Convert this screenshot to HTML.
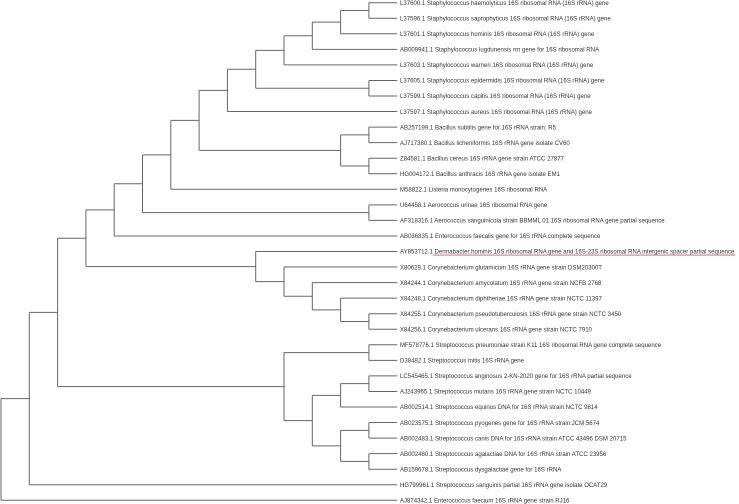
<!DOCTYPE html>
<html><head><meta charset="utf-8"><style>
html,body{margin:0;padding:0;background:#fff;}
svg{display:block;font-family:"Liberation Sans",Arial,sans-serif;}
text{font-size:6.05px;fill:#333;}
</style></head><body>
<svg id="tree" width="739" height="504" viewBox="0 0 739 504" xmlns="http://www.w3.org/2000/svg"></svg>
<script>
const labels = [
"L37600.1 Staphylococcus haemolyticus 16S ribosomal RNA (16S rRNA) gene",
"L37596.1 Staphylococcus saprophyticus 16S ribosomal RNA (16S rRNA) gene",
"L37601.1 Staphylococcus hominis 16S ribosomal RNA (16S rRNA) gene",
"AB009941.1 Staphylococcus lugdunensis rrn gene for 16S ribosomal RNA",
"L37603.1 Staphylococcus warneri 16S ribosomal RNA (16S rRNA) gene",
"L37605.1 Staphylococcus epidermidis 16S ribosomal RNA (16S rRNA) gene",
"L37599.1 Staphylococcus capitis 16S ribosomal RNA (16S rRNA) gene",
"L37597.1 Staphylococcus aureus 16S ribosomal RNA (16S rRNA) gene",
"AB257199.1 Bacillus subtilis gene for 16S rRNA strain: R5",
"AJ717380.1 Bacillus licheniformis 16S rRNA gene isolate CV60",
"Z84581.1 Bacillus cereus 16S rRNA gene strain ATCC 27877",
"HG004172.1 Bacillus anthracis 16S rRNA gene isolate EM1",
"M58822.1 Listeria monocytogenes 16S ribosomal RNA",
"U64458.1 Aerococcus urinae 16S ribosomal RNA gene",
"AF318316.1 Aerococcus sanguinicola strain BBMML 01 16S ribosomal RNA gene partial sequence",
"AB036835.1 Enterococcus faecalis gene for 16S rRNA complete sequence",
"AY853712.1 Dermabacter hominis 16S ribosomal RNA gene and 16S-23S ribosomal RNA intergenic spacer partial sequence",
"X80629.1 Corynebacterium glutamicum 16S rRNA gene strain DSM20300T",
"X84244.1 Corynebacterium amycolatum 16S rRNA gene strain NCFB 2768",
"X84248.1 Corynebacterium diphtheriae 16S rRNA gene strain NCTC 11397",
"X84255.1 Corynebacterium pseudotuberculosis 16S rRNA gene strain NCTC 3450",
"X84256.1 Corynebacterium ulcerans 16S rRNA gene strain NCTC 7910",
"MF578776.1 Streptococcus pneumoniae strain K11 16S ribosomal RNA gene complete sequence",
"D38482.1 Streptococcus mitis 16S rRNA gene",
"LC545465.1 Streptococcus anginosus 2-KN-2020 gene for 16S rRNA partial sequence",
"AJ243965.1 Streptococcus mutans 16S rRNA gene strain NCTC 10449",
"AB002514.1 Streptococcus equinus DNA for 16S rRNA strain NCTC 9814",
"AB023575.1 Streptococcus pyogenes gene for 16S rRNA strain:JCM 5674",
"AB002483.1 Streptococcus canis DNA for 16S rRNA strain ATCC 43496 DSM 20715",
"AB002480.1 Streptococcus agalactiae DNA for 16S rRNA strain ATCC 23956",
"AB159678.1 Streptococcus dysgalactiae gene for 16S rRNA",
"HG799961.1 Streptococcus sanguinis partial 16S rRNA gene isolate OCAT29",
"AJ874342.1 Enterococcus faecium 16S rRNA gene strain RJ16"
];
// Tree: [column, child, child] ; numbers = leaf indices
const tree = [0,[1,[2,[3,[4,15,[5,[6,[7,[8,[9,[10,[11,[12,[13,0,1],2],3],4],[13,5,6]],7],[12,[13,8,9],[13,10,11]]],12],[13,13,14]]],[9,16,[10,17,[11,18,[12,19,[13,20,21]]]]]],[10,[13,22,23],[11,[12,[13,24,25],26],[12,[13,27,28],[13,29,30]]]]],31],32];
const leafCol = 14;
function xc(c){return 1 + c*28.3;}
function yl(i){return 2.7 + i*15.55;}
const svg = document.getElementById('tree');
const NS = 'http://www.w3.org/2000/svg';
function line(x1,y1,x2,y2,name){
  const l=document.createElementNS(NS,'line');
  l.setAttribute('x1',x1);l.setAttribute('y1',y1);l.setAttribute('x2',x2);l.setAttribute('y2',y2);
  l.setAttribute('stroke','#666');l.setAttribute('stroke-width','1');
  
  
  svg.appendChild(l);
}
function draw(n){
  if(typeof n==='number'){return {y:yl(n),x:xc(leafCol)};}
  const x=xc(n[0]);
  const ys=[];
  for(let k=1;k<n.length;k++){
    const r=draw(n[k]);
    line(x,r.y,r.x,r.y,'branch');
    ys.push(r.y);
  }
  line(x,Math.min(...ys),x,Math.max(...ys),'clade-connector');
  return {y:(Math.min(...ys)+Math.max(...ys))/2,x:x};
}
draw(tree);
labels.forEach((s,i)=>{
  const t=document.createElementNS(NS,'text');
  t.setAttribute('x',400);t.setAttribute('y',yl(i)+2.2);
  
  
  t.textContent=s;
  svg.appendChild(t);
  if(i===16){
    const b=t.getBBox();
    const pre=document.createElementNS(NS,'text');
    pre.setAttribute('x',-100);pre.setAttribute('y',-100);pre.textContent='AY853712.1 ';
    svg.appendChild(pre);
    const w=pre.getComputedTextLength();svg.removeChild(pre);
    const u=document.createElementNS(NS,'line');
    u.setAttribute('x1',400+w);u.setAttribute('x2',b.x+b.width);
    u.setAttribute('y1',yl(i)+3.6);u.setAttribute('y2',yl(i)+3.6);
    u.setAttribute('stroke','#e0505a');u.setAttribute('stroke-width','0.9');
    
    
    svg.appendChild(u);
  }
});
</script>
</body></html>
